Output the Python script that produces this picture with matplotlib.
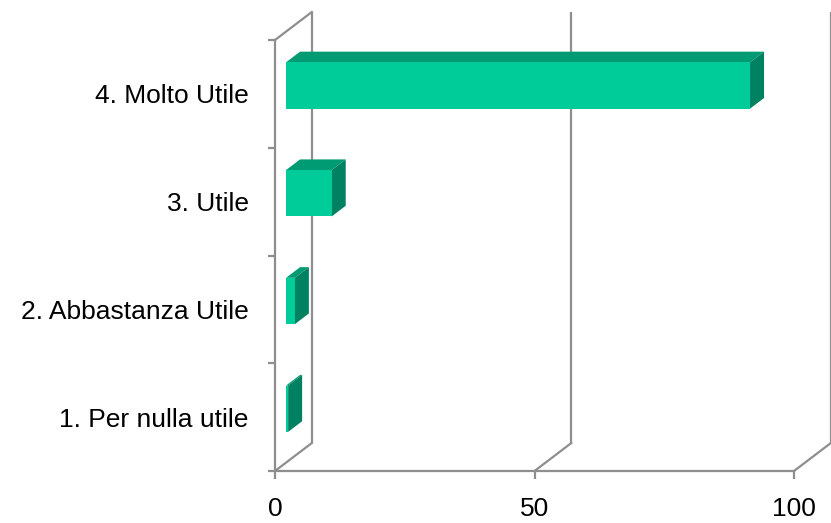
import matplotlib.pyplot as plt
from matplotlib.patches import Polygon

plt.rcParams['font.family'] = ['Liberation Sans', 'DejaVu Sans']

# dati (dal basso verso l'alto)
categories = ['1. Per nulla utile', '2. Abbastanza Utile', '3. Utile', '4. Molto Utile']
values = [0.4, 1.7, 8.8, 89.4]
x_ticks = [0, 50, 100]

# colori
face_col = '#00CC99'
top_col = '#009A73'
side_col = '#008262'
grid_col = '#8E8E8E'

# profondita' finta 3D (in unita' dati)
ddx, ddy = 7.1, 0.26
f0, f1 = 0.30, 0.68      # posizione della barra nella profondita'
half_h = 0.215

fig = plt.figure(figsize=(8.31, 5.23), dpi=100)
ax = fig.add_axes([275 / 831, 52 / 523, 519 / 831, 431 / 523])
ax.set_xlim(0, 100)
ax.set_ylim(0, len(categories))

# pareti / griglia sul fondo
lw = 1.6
for xv in x_ticks:
    ax.plot([xv + ddx, xv + ddx], [ddy, len(categories) + ddy], color=grid_col, lw=lw,
            clip_on=False, zorder=1, solid_capstyle='butt')
    ax.plot([xv, xv + ddx], [0, ddy], color=grid_col, lw=lw, clip_on=False, zorder=1)
ax.plot([0, ddx], [len(categories), len(categories) + ddy], color=grid_col, lw=lw,
        clip_on=False, zorder=1)

# barre
d = f1 - f0
for i, v in enumerate(values):
    yc = i + 0.5
    x0 = f0 * ddx
    yb = yc - half_h + f0 * ddy
    yt = yc + half_h + f0 * ddy
    front = [(x0, yb), (x0 + v, yb), (x0 + v, yt), (x0, yt)]
    top = [(x0, yt), (x0 + v, yt), (x0 + v + d * ddx, yt + d * ddy), (x0 + d * ddx, yt + d * ddy)]
    side = [(x0 + v, yb), (x0 + v, yt), (x0 + v + d * ddx, yt + d * ddy), (x0 + v + d * ddx, yb + d * ddy)]
    ax.add_patch(Polygon(top, closed=True, facecolor=top_col, edgecolor='none', zorder=3, clip_on=False))
    ax.add_patch(Polygon(side, closed=True, facecolor=side_col, edgecolor='none', zorder=3, clip_on=False))
    ax.add_patch(Polygon(front, closed=True, facecolor=face_col, edgecolor='none', zorder=4, clip_on=False))

# assi frontali
for s in ['top', 'right']:
    ax.spines[s].set_visible(False)
for s in ['left', 'bottom']:
    ax.spines[s].set_color(grid_col)
    ax.spines[s].set_linewidth(lw)
    ax.spines[s].set_zorder(5)

ax.set_xticks(x_ticks)
ax.set_xticklabels([str(t) for t in x_ticks])
ax.tick_params(axis='x', length=5.5, width=lw, color=grid_col, pad=13, labelsize=19)

ax.set_yticks(range(len(categories) + 1))
ax.set_yticklabels([])
ax.tick_params(axis='y', which='major', length=5, width=lw, color=grid_col)
ax.set_yticks([i + 0.5 for i in range(len(categories))], minor=True)
ax.set_yticklabels(categories, minor=True)
ax.tick_params(axis='y', which='minor', length=0, pad=19, labelsize=19)

ax.patch.set_alpha(0)
fig.savefig('out.png', dpi=100)
